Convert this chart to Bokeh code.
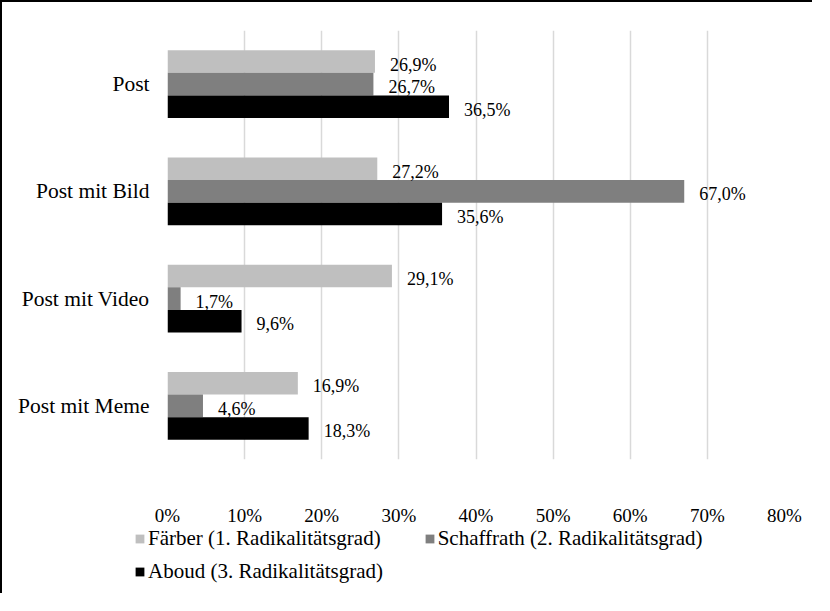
from bokeh.plotting import figure
from bokeh.models import (ColumnDataSource, FactorRange, Range1d, FixedTicker,
                          PrintfTickFormatter, Legend, LegendItem, LabelSet)
from bokeh.transform import dodge
from bokeh.embed import file_html
from bokeh.resources import INLINE

categories = ["Post", "Post mit Bild", "Post mit Video", "Post mit Meme"]
faerber = [26.9, 27.2, 29.1, 16.9]
schaffrath = [26.7, 67.0, 1.7, 4.6]
aboud = [36.5, 35.6, 9.6, 18.3]
series_names = ["Färber (1. Radikalitätsgrad)",
                "Schaffrath (2. Radikalitätsgrad)",
                "Aboud (3. Radikalitätsgrad)"]
x_ticks = [0, 10, 20, 30, 40, 50, 60, 70, 80]

FONT = "Liberation Serif"
colors = ["#bfbfbf", "#7f7f7f", "#000000"]
offsets = [0.21, 0.0, -0.21]


def fmt(v):
    return ("%.1f" % v).replace(".", ",") + "%"


src = ColumnDataSource(dict(
    cat=categories,
    f=faerber, s=schaffrath, a=aboud,
    fl=[fmt(v) for v in faerber],
    sl=[fmt(v) for v in schaffrath],
    al=[fmt(v) for v in aboud],
))

W = 812
p = figure(width=W, height=526, output_backend="svg", toolbar_location=None,
           y_range=FactorRange(*categories[::-1], range_padding=0),
           x_range=Range1d(0, 80),
           min_border_left=165, min_border_right=30, min_border_top=28,
           min_border_bottom=60)
p.outline_line_color = None
p.background_fill_color = "white"
p.styles = {"border-left": "2px solid black", "border-top": "2px solid black"}

for key, lab, col, off in zip(["f", "s", "a"], ["fl", "sl", "al"], colors, offsets):
    p.hbar(y=dodge("cat", off, range=p.y_range), right=key, left=0,
           height=0.21, source=src, fill_color=col, line_color=None)
    p.add_layout(LabelSet(x=key, y=dodge("cat", off, range=p.y_range), text=lab,
                          source=src, x_offset=15, y_offset=-3,
                          text_align="left", text_baseline="middle",
                          text_font=FONT, text_font_size="18px",
                          text_color="#000000"))

p.xgrid.ticker = FixedTicker(ticks=x_ticks)
p.xgrid.grid_line_color = "#d9d9d9"
p.xgrid.grid_line_width = 1.5
p.ygrid.grid_line_color = None

p.xaxis.ticker = FixedTicker(ticks=x_ticks)
p.xaxis.formatter = PrintfTickFormatter(format="%d%%")
for ax in (p.xaxis, p.yaxis):
    ax.axis_line_color = None
    ax.major_tick_line_color = None
    ax.minor_tick_line_color = None
    ax.major_label_text_font = FONT
    ax.major_label_text_color = "#000000"
p.xaxis.major_label_text_font_size = "19px"
p.xaxis.major_label_standoff = 39
p.yaxis.major_label_text_font_size = "21.5px"
p.yaxis.major_label_standoff = 12

# legend panel (separate root, so its frame is not aligned with the chart's)
pl = figure(width=W, height=67, output_backend="svg", toolbar_location=None,
            x_range=Range1d(0, 1), y_range=Range1d(0, 1),
            x_axis_type=None, y_axis_type=None, min_border=0)
pl.outline_line_color = None
pl.xgrid.visible = False
pl.ygrid.visible = False
pl.styles = {"border-left": "2px solid black"}
leg_renderers = [pl.hbar(y=key, right=key, left=0, height=0.21, source=src,
                         fill_color=c, line_color=None, visible=False)
                 for key, c in zip(["f", "s", "a"], colors)]


def mk_legend(idx, loc):
    return Legend(items=[LegendItem(label=series_names[i], renderers=[leg_renderers[i]]) for i in idx],
                  orientation="horizontal", location=loc,
                  border_line_color=None, background_fill_alpha=0,
                  inactive_fill_alpha=0,
                  label_text_font=FONT, label_text_font_size="21px",
                  label_text_color="#000000",
                  glyph_width=11, glyph_height=11, label_standoff=3,
                  spacing=43, padding=0, margin=0)


pl.add_layout(mk_legend([0, 1], (132, 42)))
pl.add_layout(mk_legend([2], (132, 9)))

open("out.html", "w").write(file_html([p, pl], INLINE))
